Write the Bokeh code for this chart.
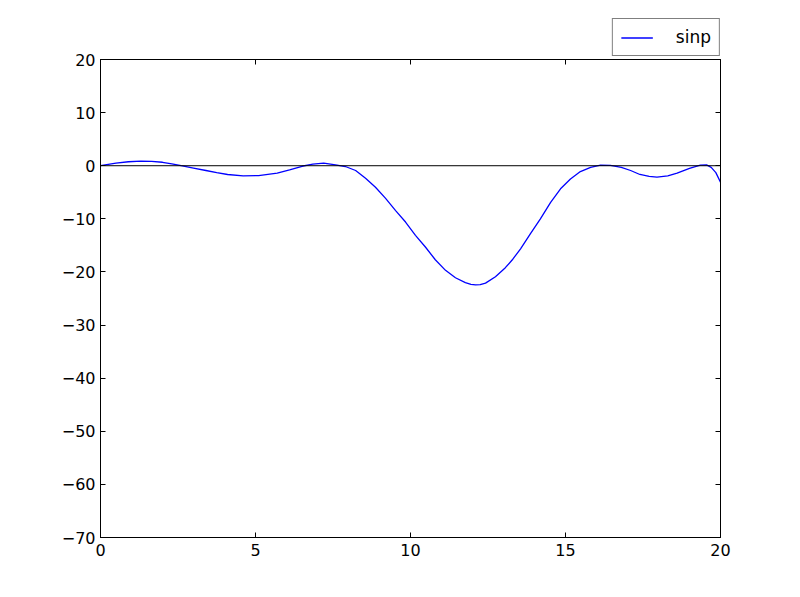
from bokeh.plotting import figure
from bokeh.models import (Range1d, FixedTicker, LinearAxis, Span, Legend, LegendItem)
from bokeh.layouts import column
from bokeh.embed import file_html
from bokeh.resources import INLINE

# data
x_vals = [0.0, 0.5, 0.9, 1.3, 1.65, 2.0, 2.3, 2.6, 3.0, 3.4, 3.75, 4.1, 4.6, 5.1, 5.7, 6.1, 6.5,
          6.85, 7.2, 7.58, 7.9, 8.23, 8.55, 8.87, 9.19, 9.52, 9.84, 10.16, 10.48, 10.8, 11.13,
          11.45, 11.77, 11.95, 12.1, 12.25, 12.42, 12.74, 13.06, 13.3, 13.55, 13.87, 14.19,
          14.52, 14.84, 15.16, 15.48, 15.81, 16.13, 16.45, 16.8, 17.1, 17.4, 17.7, 17.95,
          18.3, 18.6, 19.0, 19.35, 19.55, 19.7, 19.85, 20.0]
y_vals = [0.0, 0.5, 0.75, 0.85, 0.8, 0.65, 0.35, 0.0, -0.45, -0.9, -1.3, -1.65, -1.9, -1.85,
          -1.4, -0.8, -0.1, 0.3, 0.5, 0.17, -0.15, -0.9, -2.35, -4.05, -6.1, -8.45, -10.6,
          -13.1, -15.3, -17.7, -19.7, -21.1, -22.0, -22.35, -22.45, -22.4, -22.1, -20.9,
          -19.2, -17.6, -15.65, -12.8, -10.0, -6.9, -4.35, -2.5, -1.1, -0.3, 0.1, 0.05,
          -0.3, -0.9, -1.65, -2.0, -2.15, -1.9, -1.4, -0.5, 0.1, 0.15, -0.3, -1.3, -3.1]
series_name = "sinp"
x_ticks = [0, 5, 10, 15, 20]
y_ticks = [-70, -60, -50, -40, -30, -20, -10, 0, 10, 20]

FONT = "DejaVu Sans"
FS = "16px"
LINE_COLOR = "#0000ff"
TOP_H = 57

# --- legend strip, overlapped by the main plot's transparent top border ---
top = figure(width=800, height=TOP_H, output_backend="svg", toolbar_location=None,
             x_range=Range1d(100, 101), y_range=Range1d(100, 101),
             x_axis_location=None, y_axis_location=None,
             min_border_left=100, min_border_right=80, min_border_top=0, min_border_bottom=1,
             margin=(0, 0, -TOP_H, 0))
top.xgrid.visible = False
top.ygrid.visible = False
top.outline_line_color = None
top.border_fill_color = None
top.background_fill_color = None
proxy = top.line(x_vals, y_vals, line_color=LINE_COLOR, line_width=1.3)
legend = Legend(items=[LegendItem(label=series_name, renderers=[proxy])],
                location="bottom_right", orientation="vertical",
                border_line_color="black", border_line_width=1,
                background_fill_alpha=1, background_fill_color="white",
                label_text_font=FONT, label_text_font_size="17px", label_text_color="black",
                glyph_width=32, glyph_height=19, label_height=19,
                label_standoff=23, padding=8, margin=0, spacing=0)
top.add_layout(legend, "center")

# --- main plot ---
p = figure(width=800, height=597, output_backend="svg", toolbar_location=None,
           x_range=Range1d(0, 20), y_range=Range1d(-70, 20),
           min_border_left=100, min_border_right=80, min_border_top=59,
           min_border_bottom=60)
p.xgrid.visible = False
p.ygrid.visible = False
p.outline_line_color = "black"
p.outline_line_width = 1
p.background_fill_color = "white"
p.border_fill_color = None

def style_axis(ax, ticks, labels=True):
    ax.ticker = FixedTicker(ticks=ticks)
    ax.major_tick_in = 5
    ax.major_tick_out = 0
    ax.minor_tick_in = 0
    ax.minor_tick_out = 0
    ax.axis_line_color = "black"
    ax.major_tick_line_color = "black"
    ax.major_label_text_font = FONT
    ax.major_label_text_font_size = FS
    ax.major_label_text_color = "black" if labels else None
    ax.major_label_overrides = {t: str(t).replace("-", "\u2212") for t in ticks}

style_axis(p.xaxis[0], x_ticks)
style_axis(p.yaxis[0], y_ticks)
p.xaxis[0].major_label_standoff = 6
p.yaxis[0].major_label_standoff = 5

top_ax = LinearAxis()
style_axis(top_ax, x_ticks, labels=False)
top_ax.major_label_text_font_size = "0px"
top_ax.major_label_standoff = 0
p.add_layout(top_ax, "above")
right_ax = LinearAxis()
style_axis(right_ax, y_ticks, labels=False)
right_ax.major_label_text_font_size = "0px"
right_ax.major_label_standoff = 0
p.add_layout(right_ax, "right")

p.add_layout(Span(location=0, dimension="width", line_color="black", line_width=1))

p.line(x_vals, y_vals, line_color=LINE_COLOR, line_width=1.3)

layout = column(top, p, spacing=0)
open("out.html", "w").write(file_html(layout, INLINE))
